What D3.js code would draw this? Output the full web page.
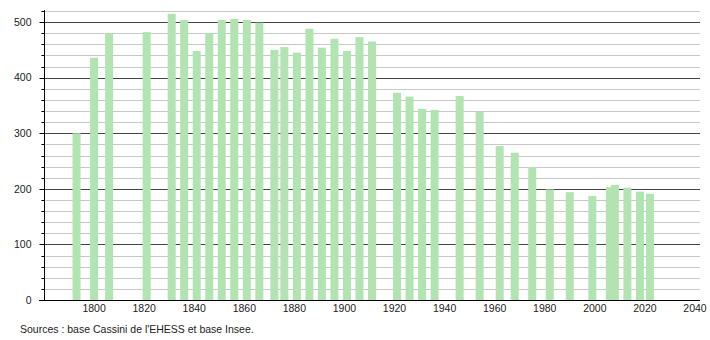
<!DOCTYPE html>
<html>
<head>
<meta charset="utf-8">
<script src="https://cdn.jsdelivr.net/npm/d3@7"></script>
<style>
  body { margin: 0; background: #fff; }
  svg text { font-family: "Liberation Sans", Arial, sans-serif; fill: #222; }
</style>
</head>
<body>
<svg id="chart" width="710" height="340"></svg>
<script>
//census years and population
const years = [1793, 1800, 1806, 1821, 1831, 1836, 1841, 1846, 1851, 1856, 1861, 1866, 1872, 1876, 1881, 1886, 1891, 1896, 1901, 1906, 1911, 1921, 1926, 1931, 1936, 1946, 1954, 1962, 1968, 1975, 1982, 1990, 1999, 2006, 2008, 2013, 2018, 2022];
const population = [300, 436, 480, 482, 515, 504, 448, 480, 504, 506, 504, 499, 450, 455, 445, 488, 454, 470, 448, 473, 465, 373, 366, 344, 342, 367, 339, 277, 265, 239, 199, 194, 187, 203, 207, 202, 195, 191];
const xTicks = [1800, 1820, 1840, 1860, 1880, 1900, 1920, 1940, 1960, 1980, 2000, 2020, 2040];
const yTicks = [0, 100, 200, 300, 400, 500];
const source = "Sources : base Cassini de l'EHESS et base Insee.";

const data = years.map((y, i) => ({ year: y, pop: population[i] }));

//plot area
const plotLeft = 44, plotRight = 700, plotTop = 11, plotBottom = 300;

const svg = d3.select("#chart");

const x = d3.scaleLinear()
    .domain([1780, 2042])
    .range([plotLeft, plotRight]);
const y = d3.scaleLinear()
    .domain([0, 520])
    .range([plotBottom, plotTop]);

//gridlines, light every 20, dark every 100
const grid = d3.range(20, 521, 20);
svg.append("g")
    .selectAll("line")
    .data(grid)
    .join("line")
    .attr("x1", plotLeft)
    .attr("x2", plotRight)
    .attr("y1", d => Math.round(y(d)) + 0.5)
    .attr("y2", d => Math.round(y(d)) + 0.5)
    .attr("stroke", d => d % 100 === 0 ? "#444" : "#c8c8c8")
    .attr("stroke-width", 1);

//bars centered on the census year
const halfBar = 1.6;
svg.append("g")
    .selectAll("rect")
    .data(data)
    .join("rect")
    .attr("x", d => x(d.year - halfBar))
    .attr("width", d => x(d.year + halfBar) - x(d.year - halfBar))
    .attr("y", d => y(d.pop))
    .attr("height", d => y(0) - y(d.pop))
    .attr("fill", "#b2e4b2");

//y axis with minor ticks
const yAxis = svg.append("g").attr("transform", `translate(${plotLeft + 0.5},0)`);
yAxis.append("line")
    .attr("x1", 0).attr("x2", 0)
    .attr("y1", plotTop - 1).attr("y2", plotBottom)
    .attr("stroke", "#000");
yAxis.selectAll("line.tick")
    .data(grid.concat([0]))
    .join("line")
    .attr("class", "tick")
    .attr("x1", d => d % 100 === 0 ? -5 : -3)
    .attr("x2", 0)
    .attr("y1", d => Math.round(y(d)) + 0.5)
    .attr("y2", d => Math.round(y(d)) + 0.5)
    .attr("stroke", "#000");
yAxis.selectAll("text")
    .data(yTicks)
    .join("text")
    .attr("x", -13)
    .attr("y", d => y(d))
    .attr("dy", "0.35em")
    .attr("text-anchor", "end")
    .style("font-size", "10.5px")
    .text(d => d);

//x axis
svg.append("line")
    .attr("x1", plotLeft - 5)
    .attr("x2", plotRight)
    .attr("y1", plotBottom + 0.5)
    .attr("y2", plotBottom + 0.5)
    .attr("stroke", "#000");
svg.append("g")
    .selectAll("text")
    .data(xTicks)
    .join("text")
    .attr("x", d => x(d))
    .attr("y", plotBottom + 12)
    .attr("text-anchor", "middle")
    .style("font-size", "10.5px")
    .text(d => d);

//source note
svg.append("text")
    .attr("x", 20)
    .attr("y", 333)
    .style("font-size", "10.5px")
    .text(source);
</script>
</body>
</html>
